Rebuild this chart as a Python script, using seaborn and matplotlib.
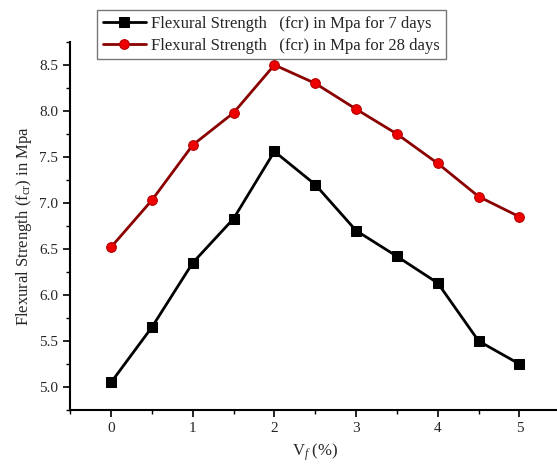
import matplotlib
matplotlib.use("Agg")
import matplotlib.pyplot as plt
from matplotlib.ticker import MultipleLocator
import seaborn as sns

# ── Dados ──────────────────────────────────────────────────────────────────────
vf = [0, 0.5, 1, 1.5, 2, 2.5, 3, 3.5, 4, 4.5, 5]
fcr_7 = [5.05, 5.65, 6.35, 6.83, 7.56, 7.20, 6.70, 6.42, 6.13, 5.50, 5.25]
fcr_28 = [6.52, 7.03, 7.63, 7.98, 8.50, 8.30, 8.02, 7.75, 7.43, 7.07, 6.85]
label_7 = "Flexural Strength   (fcr) in Mpa for 7 days"
label_28 = "Flexural Strength   (fcr) in Mpa for 28 days"

sns.set_style("ticks")
plt.rcParams["font.family"] = ["Liberation Serif", "DejaVu Serif"]
plt.rcParams["mathtext.fontset"] = "custom"
plt.rcParams["mathtext.rm"] = "Liberation Serif"
plt.rcParams["mathtext.it"] = "Liberation Serif:italic"

fig = plt.figure(figsize=(5.57, 4.66), dpi=100)
ax = fig.add_axes([0.126, 0.12, 0.88, 0.79])

sns.lineplot(x=vf, y=fcr_7, ax=ax, color="black", lw=2, marker="s", markersize=7,
             markerfacecolor="black", markeredgecolor="black", label=label_7)
sns.lineplot(x=vf, y=fcr_28, ax=ax, color="#8b0000", lw=2, marker="o", markersize=7,
             markerfacecolor="#ee0000", markeredgecolor="#b00000", label=label_28)

ax.set_xlim(-0.5, 5.5)
ax.set_ylim(4.75, 8.75)
ax.xaxis.set_major_locator(MultipleLocator(1))
ax.xaxis.set_minor_locator(MultipleLocator(0.5))
ax.yaxis.set_major_locator(MultipleLocator(0.5))
ax.yaxis.set_minor_locator(MultipleLocator(0.25))
ax.set_yticklabels([f"{t:.1f}" for t in ax.get_yticks()])
ax.tick_params(which="major", direction="out", length=5, width=1.2, labelsize=11, color="black")
ax.tick_params(which="minor", direction="out", length=3, width=1.0, color="black")
for s in ["left", "bottom"]:
    ax.spines[s].set_linewidth(1.5)
    ax.spines[s].set_color("black")
sns.despine(ax=ax)

ax.set_xlabel(r"V$_{\mathit{f}}$ (%)", fontsize=12, labelpad=5)
ax.set_ylabel(r"Flexural Strength (f$_{\mathrm{cr}}$) in Mpa", fontsize=12)

leg = ax.legend(loc="upper center", bbox_to_anchor=(0.41, 1.087), frameon=True, fancybox=False,
                edgecolor="#555555", fontsize=12, handlelength=2.6, borderpad=0.35,
                labelspacing=0.35, handletextpad=0.3, borderaxespad=0)
leg.get_frame().set_linewidth(1.0)

fig.savefig("out.png", dpi=100)
